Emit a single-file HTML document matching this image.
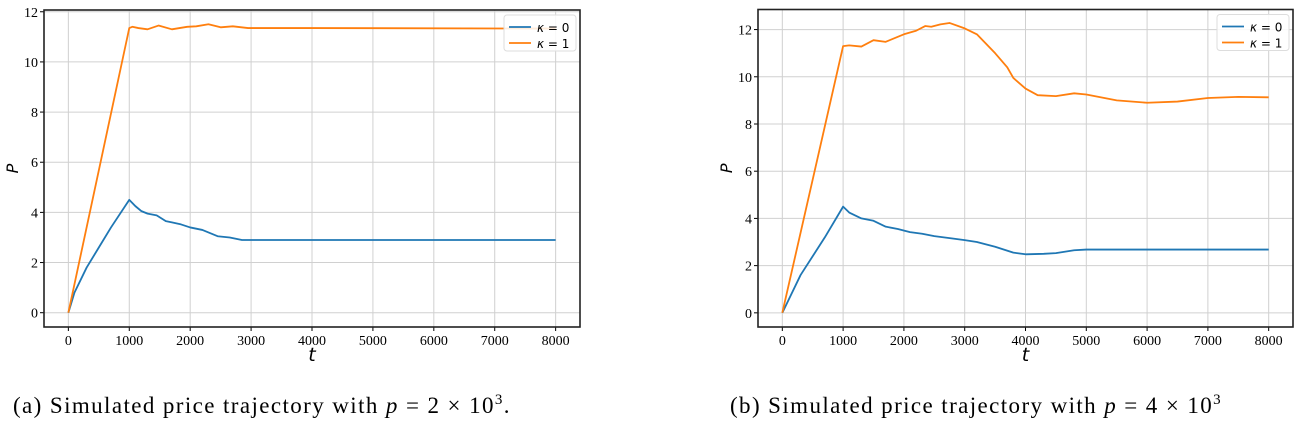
<!DOCTYPE html>
<html><head><meta charset="utf-8"><style>
html,body{margin:0;padding:0;background:#fff;width:1302px;height:423px;overflow:hidden}
svg text{font-family:"Liberation Serif",serif}
svg text.sans{font-family:"DejaVu Sans",sans-serif}
</style></head><body>
<svg id="fig" width="1302" height="423" xmlns="http://www.w3.org/2000/svg">
<text x="13" y="413" font-size="23" letter-spacing="1.4">(a) Simulated price trajectory with <tspan font-style="italic">p</tspan> = 2 × 10<tspan font-size="15" dy="-9">3</tspan><tspan dy="9">.</tspan></text>
<text x="730" y="413" font-size="23" letter-spacing="1.4">(b) Simulated price trajectory with <tspan font-style="italic">p</tspan> = 4 × 10<tspan font-size="15" dy="-9">3</tspan></text>
</svg>
<script>
const xTicks=[0,1000,2000,3000,4000,5000,6000,7000,8000];
const yTicksA=[0,2,4,6,8,10,12];
const yTicksB=[0,2,4,6,8,10,12];
const aBlueT=[0,100,300,500,700,1000,1100,1200,1300,1450,1600,1700,1850,2000,2200,2300,2450,2650,2850,8000];
const aBlueV=[0,0.8,1.8,2.6,3.4,4.5,4.25,4.05,3.95,3.88,3.65,3.6,3.52,3.4,3.3,3.2,3.05,3.0,2.9,2.9];
const aOrT=[0,1000,1050,1150,1300,1480,1700,1950,2100,2300,2500,2700,2950,4000,8000];
const aOrV=[0,11.35,11.4,11.35,11.3,11.45,11.3,11.4,11.42,11.5,11.38,11.42,11.35,11.35,11.33];
const bBlueT=[0,300,700,1000,1100,1300,1500,1700,1900,2100,2300,2500,2800,3000,3200,3500,3800,4000,4300,4500,4800,5000,8000];
const bBlueV=[0,1.6,3.2,4.5,4.25,4.0,3.9,3.65,3.55,3.42,3.35,3.25,3.15,3.08,3.0,2.8,2.55,2.48,2.5,2.53,2.65,2.68,2.68];
const bOrT=[0,1000,1100,1300,1500,1700,2000,2200,2350,2450,2600,2750,3000,3200,3500,3700,3800,4000,4200,4500,4800,5000,5500,6000,6500,7000,7500,8000];
const bOrV=[0,11.3,11.33,11.28,11.55,11.48,11.8,11.95,12.15,12.12,12.22,12.28,12.05,11.8,11.0,10.4,9.95,9.5,9.22,9.18,9.3,9.25,9.0,8.9,8.95,9.1,9.15,9.13];
const NS="http://www.w3.org/2000/svg";
const svg=document.getElementById('fig');
function mk(tag,attrs,parent){const e=document.createElementNS(NS,tag);for(const k in attrs)e.setAttribute(k,attrs[k]);(parent||svg).appendChild(e);return e;}
function panel(id,L,R,T,B,ymin,ymax,yTicks,series){
  const g=mk('g',{});
  
  
  const xs=v=>L+(v+400)/8800*(R-L);
  const ys=v=>B-(v-ymin)/(ymax-ymin)*(B-T);
  xTicks.forEach(t=>{
    const l=mk('line',{x1:xs(t),x2:xs(t),y1:T,y2:B,stroke:'#d0d0d0','stroke-width':1},g);
    
    
    mk('line',{x1:xs(t),x2:xs(t),y1:B,y2:B+4,stroke:'#000','stroke-width':1},g);
    const tx=mk('text',{x:xs(t),y:B+18,'font-size':14,'text-anchor':'middle'},g);
    tx.textContent=t;
    
    
  });
  yTicks.forEach(t=>{
    const l=mk('line',{x1:L,x2:R,y1:ys(t),y2:ys(t),stroke:'#d0d0d0','stroke-width':1},g);
    
    
    mk('line',{x1:L-4,x2:L,y1:ys(t),y2:ys(t),stroke:'#000','stroke-width':1},g);
    const tx=mk('text',{x:L-6,y:ys(t)+5,'font-size':14,'text-anchor':'end'},g);
    tx.textContent=t;
    
    
  });
  series.forEach(s=>{
    const p=mk('polyline',{points:s.t.map((t,i)=>xs(t)+','+ys(s.v[i])).join(' '),fill:'none',stroke:s.c,'stroke-width':1.8,'stroke-linejoin':'round'},g);
    
    
  });
  const fr=mk('rect',{x:L,y:T,width:R-L,height:B-T,fill:'none',stroke:'#222','stroke-width':1.6},g);
  
  
  const xl=mk('text',{x:(xs(0)+xs(8000))/2,y:B+34,'font-size':19,'font-style':'italic','text-anchor':'middle','class':'sans'},g);
  xl.textContent='t';
  
  
  const yl=mk('text',{x:0,y:0,'font-size':16,'font-style':'italic','text-anchor':'middle','class':'sans','transform':`translate(${L-26},${(T+B)/2}) rotate(-90)`},g);
  yl.textContent='P';
  
  
  const lg=mk('g',{},g);
  
  
  mk('rect',{x:R-76,y:T+5,width:72,height:36,rx:3,fill:'#fff','fill-opacity':0.85,stroke:'#ddd'},lg);
  series.forEach((s,i)=>{
    const y=T+17+i*16;
    const e=mk('g',{},lg);
    
    
    mk('line',{x1:R-71,x2:R-49,y1:y,y2:y,stroke:s.c,'stroke-width':1.8},e);
    const t=mk('text',{x:R-43,y:y+5,'font-size':12,'class':'sans'},e);
    t.innerHTML='<tspan font-style="italic">κ</tspan> = '+i;
  });
}
panel('panel-a',44,580,10,327,-0.57,12.07,yTicksA,[{t:aBlueT,v:aBlueV,c:'#1f77b4',n:'line-kappa-0'},{t:aOrT,v:aOrV,c:'#ff7f0e',n:'line-kappa-1'}]);
panel('panel-b',758,1293,9.5,327,-0.6,12.85,yTicksB,[{t:bBlueT,v:bBlueV,c:'#1f77b4',n:'line-kappa-0'},{t:bOrT,v:bOrV,c:'#ff7f0e',n:'line-kappa-1'}]);
</script>
</body></html>
